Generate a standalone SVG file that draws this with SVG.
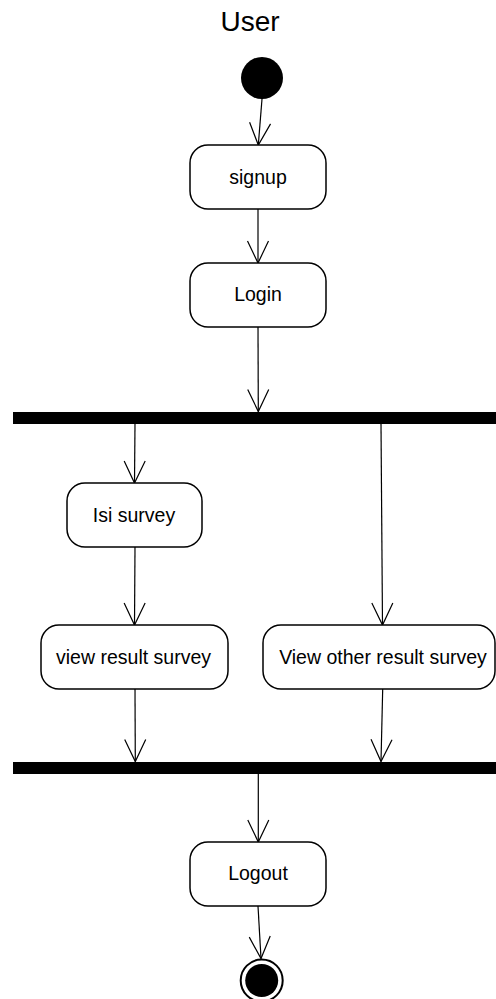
<svg xmlns="http://www.w3.org/2000/svg" width="496" height="999" viewBox="0 0 496 999">
  <style>
    .action { fill: #ffffff; stroke: #000000; stroke-width: 1.5; }
    .label { font-family: "Liberation Sans", Arial, sans-serif; font-size: 19.5px; fill: #000000; text-anchor: middle; }
    .title { font-family: "Liberation Sans", Arial, sans-serif; font-size: 28px; fill: #000000; text-anchor: middle; }
    .flow { fill: none; stroke: #000000; stroke-width: 1.2; marker-end: url(#open-arrow); }
    .bar { fill: #000000; }
  </style>
  <defs>
    <marker id="open-arrow" viewBox="-24 -12 26 24" markerWidth="26" markerHeight="24" refX="0" refY="0" orient="auto" markerUnits="userSpaceOnUse">
      <path d="M -22 -10.5 L 0 0 L -22 10.5" fill="none" stroke="#000000" stroke-width="1.2"/>
    </marker>
  </defs>

  <rect width="496" height="999" fill="#ffffff"/>

  <text class="title" x="250" y="31">User</text>

  <!-- connectors -->
  <g id="connectors">
    <line class="flow" x1="262" y1="99" x2="258.3" y2="145"/>
    <line class="flow" x1="258" y1="209" x2="258" y2="263"/>
    <line class="flow" x1="258" y1="327" x2="258.3" y2="411.5"/>
    <line class="flow" x1="135" y1="424" x2="134.5" y2="483"/>
    <line class="flow" x1="381" y1="424" x2="382.5" y2="625"/>
    <line class="flow" x1="135" y1="547" x2="134.5" y2="625"/>
    <line class="flow" x1="135" y1="689" x2="135.3" y2="761.5"/>
    <line class="flow" x1="382.7" y1="689" x2="381" y2="761.5"/>
    <line class="flow" x1="258.3" y1="774" x2="258.3" y2="842"/>
    <line class="flow" x1="258" y1="906" x2="261" y2="958.5"/>
  </g>

  <!-- initial state -->
  <g id="start">
    <circle cx="262" cy="78" r="21" fill="#000000"/>
  </g>

  <g id="signup">
    <rect class="action" x="190" y="145" width="136" height="64" rx="18" ry="18"/>
    <text class="label" x="258" y="184">signup</text>
  </g>

  <g id="login">
    <rect class="action" x="190" y="263" width="136" height="64" rx="18" ry="18"/>
    <text class="label" x="258" y="301">Login</text>
  </g>

  <!-- fork bar -->
  <g id="fork">
    <rect class="bar" x="13" y="412" width="490" height="12"/>
  </g>

  <g id="isi-survey">
    <rect class="action" x="67" y="483" width="135" height="64" rx="18" ry="18"/>
    <text class="label" x="134" y="521.5">Isi survey</text>
  </g>

  <g id="view-result-survey">
    <rect class="action" x="41" y="625" width="187" height="64" rx="18" ry="18"/>
    <text class="label" x="133.5" y="664">view result survey</text>
  </g>

  <g id="view-other-result-survey">
    <rect class="action" x="263" y="625" width="232" height="64" rx="18" ry="18"/>
    <text class="label" x="383" y="664">View other result survey</text>
  </g>

  <!-- join bar -->
  <g id="join">
    <rect class="bar" x="13" y="762" width="490" height="12"/>
  </g>

  <g id="logout">
    <rect class="action" x="190" y="842" width="136" height="64" rx="18" ry="18"/>
    <text class="label" x="258" y="880">Logout</text>
  </g>

  <!-- final state -->
  <g id="end">
    <circle cx="261.7" cy="980.5" r="21" fill="#ffffff" stroke="#000000" stroke-width="2"/>
    <circle cx="261.7" cy="980.5" r="16.5" fill="#000000"/>
  </g>
</svg>
